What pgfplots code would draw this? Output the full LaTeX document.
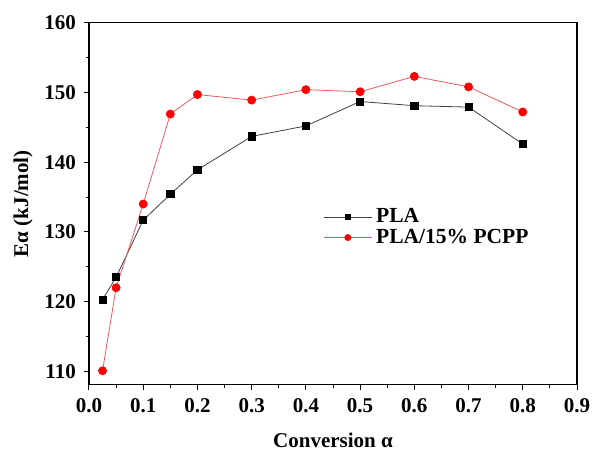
\documentclass[border=0pt]{standalone}
\usepackage{fontspec}
\setmainfont{Liberation Serif}
\usepackage{pgfplots}
\pgfplotsset{compat=1.18}
\definecolor{myred}{RGB}{255,0,0}
\definecolor{mypink}{RGB}{230,90,100}
\begin{document}
\fontsize{21}{24}\selectfont\bfseries
\begin{tikzpicture}
\path[use as bounding box] (-89pt,-68pt) rectangle (503pt,384.7pt);
\begin{axis}[
  scale only axis,
  width=488pt, height=362pt,
  xmin=0, xmax=0.9, ymin=108.1, ymax=160,
  xtick={0,0.1,...,0.9},
  ytick={110,120,...,160},
  minor x tick num=1,
  minor y tick num=1,
  tick align=outside,
  xtick pos=left, ytick pos=left,
  major tick length=5pt, minor tick length=3pt,
  axis line style={line width=1.2pt},
  every tick/.style={line width=1pt, black},
  tick label style={font=\fontsize{21}{24}\selectfont\bfseries},
  /pgf/number format/assume math mode=true,
  xticklabel={\pgfmathprintnumber[fixed,fixed zerofill,precision=1]{\tick}},
  yticklabel={\pgfmathprintnumber[fixed,precision=0]{\tick}},
  xticklabel style={yshift=-2pt},
  yticklabel style={xshift=-1pt},
  xlabel={Conversion α},
  ylabel={Eα (kJ/mol)},
  xlabel style={at={(axis description cs:0.5,-0.132)}, anchor=north, inner sep=0pt, font=\fontsize{21}{24}\selectfont\bfseries},
  ylabel style={at={(axis description cs:-0.115,0.5)}, anchor=south, inner sep=0pt, font=\fontsize{21}{24}\selectfont\bfseries},
  legend style={draw=none, fill=none, at={(axis description cs:0.48,0.49)}, anchor=north west,
    font=\fontsize{21.5}{24}\selectfont\bfseries, row sep=1pt, inner sep=0pt,
    nodes={inner sep=1pt, inner xsep=4pt}},
  legend cell align=left,
  legend image code/.code={\draw[mark repeat=2,mark phase=2,#1,every mark/.append style={scale=0.75}] plot coordinates {(0pt,0pt)(24pt,0pt)(48pt,0pt)};},
]
\addplot[color=black!75, line width=0.8pt, mark=square*, mark size=3.6pt, mark options={fill=black, draw=black}]
coordinates {(0.025,120.3)(0.05,123.5)(0.1,131.7)(0.15,135.4)(0.2,138.9)(0.3,143.7)(0.4,145.2)(0.5,148.7)(0.6,148.1)(0.7,147.9)(0.8,142.6)};
\addlegendentry{PLA}
\addplot[color=mypink, line width=0.8pt, mark=*, mark size=4pt, mark options={fill=myred, draw=myred}]
coordinates {(0.025,110.1)(0.05,122.0)(0.1,134.0)(0.15,146.9)(0.2,149.7)(0.3,148.9)(0.4,150.4)(0.5,150.1)(0.6,152.3)(0.7,150.8)(0.8,147.2)};
\addlegendentry{PLA/15\% PCPP}
\end{axis}
\end{tikzpicture}
\end{document}
